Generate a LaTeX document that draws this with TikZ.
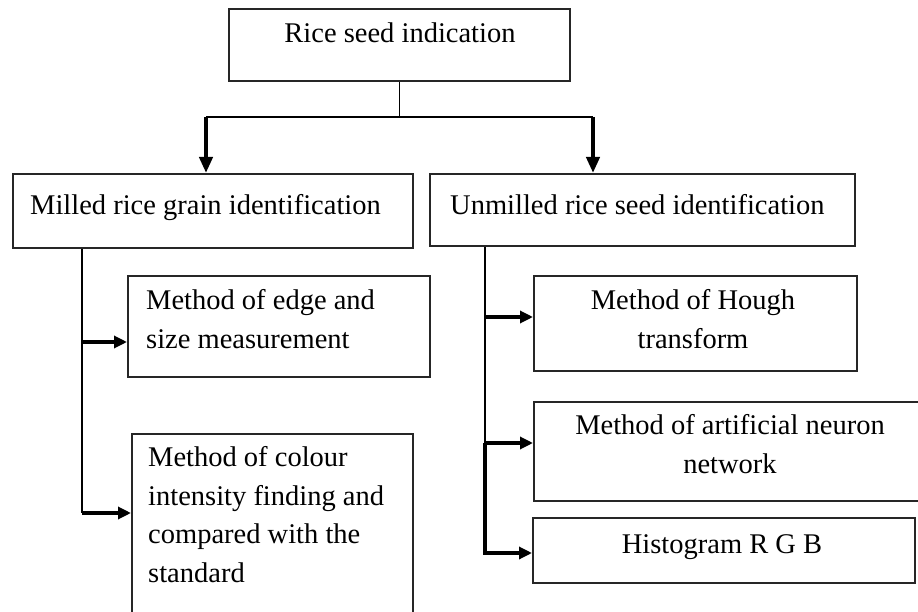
\documentclass[tikz,border=0pt]{standalone}
\usepackage{fontspec}
\setmainfont{Liberation Serif}
\usetikzlibrary{arrows.meta}
\begin{document}
\begin{tikzpicture}[x=1pt,y=-1pt,
  box/.style={draw=black!85, line width=2.2pt, inner sep=0pt, anchor=north west},
  lbl/.style={font=\fontsize{28.5}{38.5}\selectfont, inner sep=0pt},
  thinline/.style={line width=1.5pt},
  midline/.style={line width=2.4pt},
  arr/.style={line width=3.2pt, -{Triangle[length=13pt,width=12pt]}},
  bigarr/.style={line width=4pt, -{Triangle[length=16pt,width=13pt]}},
]
\useasboundingbox (0,0) rectangle (918,612);
% boxes
\node[box, minimum width=341pt, minimum height=72pt] (root) at (228,8) {};
\node[box, minimum width=400pt, minimum height=74pt] (milled) at (12,173) {};
\node[box, minimum width=425pt, minimum height=72pt] (unmilled) at (429,173) {};
\node[box, minimum width=302pt, minimum height=101pt] (edge) at (127,275) {};
\node[box, minimum width=281pt, minimum height=220pt] (colour) at (131,433) {};
\node[box, minimum width=323pt, minimum height=95pt] (hough) at (533,275) {};
\node[box, minimum width=400pt, minimum height=99pt] (ann) at (533,401) {};
\node[box, minimum width=382pt, minimum height=65pt] (hist) at (532,517) {};
% texts (base anchor = baseline of the last line)
\node[lbl, anchor=base] (root-t) at (400,43) {Rice seed indication};
\node[lbl, anchor=base west] (milled-t) at (30,215) {Milled rice grain identification};
\node[lbl, anchor=base west] (unmilled-t) at (450,215) {Unmilled rice seed identification};
\node[lbl, anchor=base west, align=left] (edge-t) at (146,348) {Method of edge and\\size measurement};
\node[lbl, anchor=base west, align=left] (colour-t) at (148,582) {Method of colour\\intensity finding and\\compared with the\\standard};
\node[lbl, anchor=base, align=center] (hough-t) at (693,348) {Method of Hough\\transform};
\node[lbl, anchor=base, align=center] (ann-t) at (730,473) {Method of artificial neuron\\network};
\node[lbl, anchor=base] (hist-t) at (722,553) {Histogram R G B};
% connectors
\coordinate (hl) at (206,117);
\coordinate (hr) at (593,117);
\draw[thinline] (root.south) -- (root.south |- hl);
\draw[midline] (hl) -- (hr);
\draw[bigarr] (hl) -- (hl |- milled.north);
\draw[bigarr] (hr) -- (hr |- unmilled.north);
\coordinate (la) at (82,342);
\coordinate (lb) at (82,513);
\draw[midline] (la |- milled.south) -- (lb);
\draw[arr] (la) -- (la -| edge.west);
\draw[arr] (lb) -- (lb -| colour.west);
\coordinate (ra) at (485,317);
\coordinate (rb) at (485,443);
\coordinate (rc) at (485,553);
\draw[midline] (ra |- unmilled.south) -- (rb);
\draw[arr] (rb) -- (rc) -- (rc -| hist.west);
\draw[arr] (ra) -- (ra -| hough.west);
\draw[arr] (rb) -- (rb -| ann.west);
\end{tikzpicture}
\end{document}
